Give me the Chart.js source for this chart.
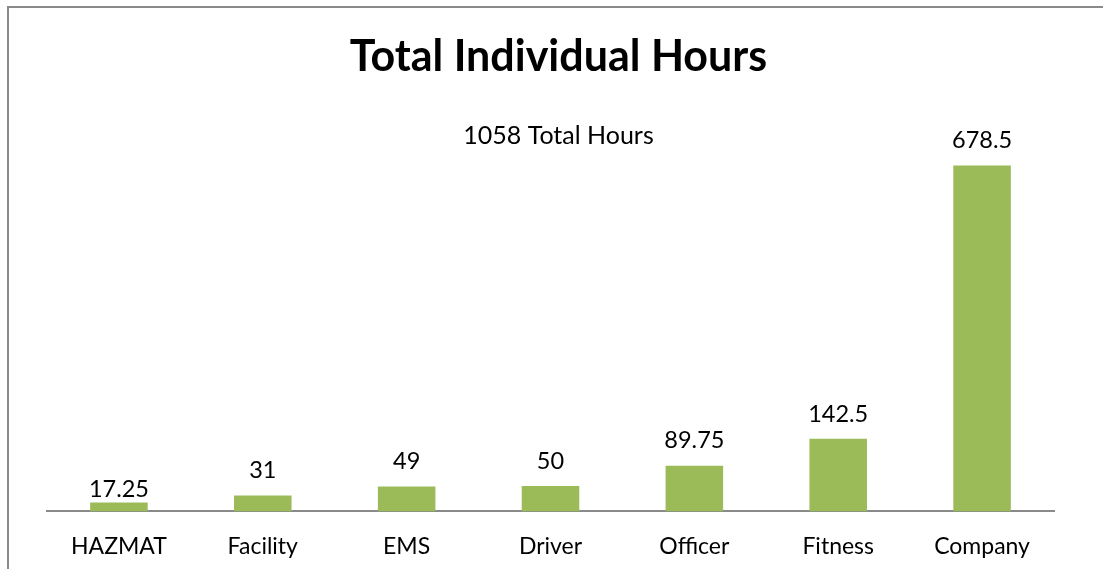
<!DOCTYPE html>
<html>
<head>
<meta charset="utf-8">
<script src="https://cdn.jsdelivr.net/npm/chart.js@4/dist/chart.umd.min.js"></script>
<style>
  html, body { margin: 0; padding: 0; background: #fff; overflow: hidden; }
  #frame {
    position: absolute; left: 7px; top: 6px; width: 1200px; height: 700px;
    border-left: 2px solid #8a8a8a; border-top: 2px solid #8a8a8a;
  }
  #wrap { position: absolute; left: 7px; top: 0; width: 1103px; height: 569px; }
</style>
</head>
<body>
<div id="frame"></div>
<div id="wrap"><canvas id="graphiqueHeures"></canvas></div>
<script>
// Données du graphique
const categories = ['HAZMAT', 'Facility', 'EMS', 'Driver', 'Officer', 'Fitness', 'Company'];
const heures = [17.25, 31, 49, 50, 89.75, 142.5, 678.5];
const titre = 'Total Individual Hours';
const sousTitre = '1058 Total Hours';

// Étiquettes de valeur au-dessus des barres
const etiquettesValeurs = {
    id: 'etiquettesValeurs',
    afterDatasetsDraw(chart, args, opts) {
        const ctx = chart.ctx;
        const meta = chart.getDatasetMeta(0);
        ctx.save();
        ctx.font = opts.font;
        ctx.fillStyle = '#000';
        ctx.textAlign = 'center';
        ctx.textBaseline = 'bottom';
        meta.data.forEach((bar, i) => {
            const ecart = (opts.ecarts && opts.ecarts[i] !== undefined) ? opts.ecarts[i] : opts.ecart;
            ctx.fillText(String(heures[i]), bar.x, bar.y - ecart);
        });
        ctx.restore();
    }
};

// Axe invisible qui réserve une marge sur un côté
function axeVide(position, largeur) {
    return {
        position: position,
        display: true,
        grid: { display: false, drawTicks: false },
        border: { display: false },
        ticks: { display: false },
        afterFit: function (scale) { scale.width = largeur; }
    };
}

document.addEventListener("DOMContentLoaded", function () {
    const ctx = document.getElementById('graphiqueHeures').getContext('2d');

    const axeY = axeVide('left', 40);
    axeY.min = 0;
    axeY.max = 700;

    new Chart(ctx, {
        type: 'bar',
        data: {
            labels: categories,
            datasets: [{
                label: 'Heures',
                data: heures,
                backgroundColor: '#9BBB59',
                borderWidth: 0,
                categoryPercentage: 1,
                barPercentage: 0.4
            }]
        },
        options: {
            responsive: true,
            maintainAspectRatio: false,
            animation: false,
            layout: {
                padding: { left: 0, right: 0, top: 0, bottom: -12 }
            },
            plugins: {
                legend: { display: false },
                tooltip: { enabled: false },
                title: {
                    display: true,
                    text: titre,
                    color: '#000',
                    font: { family: 'Lato', size: 43, weight: 'bold', lineHeight: 1.2 },
                    padding: { top: 31, bottom: 28 }
                },
                subtitle: {
                    display: true,
                    text: sousTitre,
                    color: '#000',
                    font: { family: 'Lato', size: 25, lineHeight: 1.2 },
                    padding: { top: 10, bottom: 4 }
                },
                etiquettesValeurs: {
                    font: '23.5px Lato',
                    ecart: 13,
                    ecarts: [1]
                }
            },
            scales: {
                x: {
                    grid: { display: false, drawTicks: false },
                    border: { display: true, color: '#8a8a8a', width: 2 },
                    ticks: {
                        color: '#000',
                        font: { family: 'Lato', size: 23 },
                        padding: 21,
                        maxRotation: 0
                    }
                },
                y: axeY,
                yDroite: axeVide('right', 56)
            }
        },
        plugins: [etiquettesValeurs]
    });
});
</script>
</body>
</html>
